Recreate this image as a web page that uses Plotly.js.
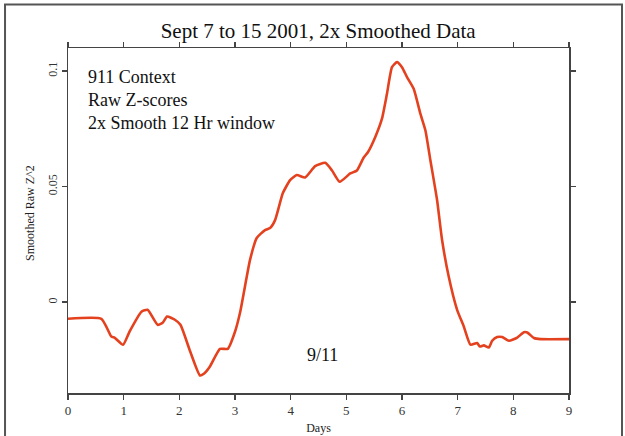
<!DOCTYPE html>
<html>
<head>
<meta charset="utf-8">
<script src="https://cdn.plot.ly/plotly-3.0.1.min.js"></script>
<style>html,body{margin:0;padding:0;background:#fff;}#chart{width:625px;height:436px;}</style>
</head>
<body>
<div id="chart"></div>
<script>
// Days since Sept 7 2001
var days = [0, 0.6, 0.78, 0.84, 0.99, 1.11, 1.32, 1.43, 1.61, 1.70, 1.78, 1.92, 2.02, 2.19, 2.37, 2.44, 2.55, 2.73, 2.87, 3.00, 3.09, 3.21, 3.27, 3.39, 3.54, 3.63, 3.72, 3.86, 3.99, 4.11, 4.26, 4.44, 4.62, 4.74, 4.88, 5.07, 5.19, 5.31, 5.39, 5.52, 5.64, 5.73, 5.82, 5.91, 6.00, 6.09, 6.21, 6.33, 6.42, 6.51, 6.63, 6.72, 6.84, 6.99, 7.11, 7.23, 7.35, 7.40, 7.47, 7.56, 7.62, 7.71, 7.80, 7.92, 8.07, 8.19, 8.25, 8.37, 8.49, 9.0];
// Smoothed raw Z^2
var smoothedZ2 = [-0.0072, -0.0072, -0.0149, -0.0154, -0.0184, -0.0125, -0.0041, -0.0033, -0.0098, -0.0089, -0.0062, -0.0076, -0.0098, -0.0210, -0.0317, -0.0310, -0.0278, -0.0202, -0.0202, -0.0128, -0.0046, 0.0109, 0.0183, 0.0278, 0.0312, 0.0321, 0.0355, 0.0472, 0.0528, 0.0550, 0.0540, 0.0589, 0.0603, 0.0571, 0.0521, 0.0557, 0.0570, 0.0625, 0.0650, 0.0715, 0.0794, 0.0902, 0.1017, 0.1039, 0.1017, 0.0974, 0.0924, 0.0816, 0.0744, 0.0614, 0.0442, 0.0269, 0.0110, -0.0033, -0.0105, -0.0184, -0.0177, -0.0192, -0.0187, -0.0196, -0.0167, -0.0151, -0.0151, -0.0167, -0.0153, -0.0130, -0.0131, -0.0155, -0.0160, -0.0160];
var xTicks = [0, 1, 2, 3, 4, 5, 6, 7, 8, 9];
var yTicks = [0, 0.05, 0.1];
var yTickText = ["0", "0.05", "0.1"];
var titleText = "Sept 7 to 15 2001, 2x Smoothed Data";
var xTitle = "Days";
var yTitle = "Smoothed Raw Z^2";
var noteLines = ["911 Context", "Raw Z-scores", "2x Smooth 12 Hr window"];
var noteY = [0.0973, 0.0873, 0.0774];
var eventLabel = "9/11";

var font = '"Liberation Serif", "Times New Roman", Times, serif';
var axisColor = '#444';

var annotations = noteLines.map(function (t, i) {
  return {text: t, x: 0.33, y: noteY[i], xref: 'x', yref: 'y', xanchor: 'left', yanchor: 'middle',
          showarrow: false, font: {family: font, size: 18, color: '#111'}};
});
annotations.push({text: eventLabel, x: 4.58, y: -0.0228, xref: 'x', yref: 'y', xanchor: 'center', yanchor: 'middle',
                  showarrow: false, font: {family: font, size: 18, color: '#111'}});
annotations.push({text: yTitle, x: -0.0758, y: 0.522, xref: 'paper', yref: 'paper', xanchor: 'center', yanchor: 'middle',
                  textangle: -90, showarrow: false, font: {family: font, size: 12, color: '#222'}});

var trace = {
  x: days, y: smoothedZ2, type: 'scatter', mode: 'lines',
  line: {color: '#e4411f', width: 2.6, shape: 'spline', smoothing: 0.5},
  hoverinfo: 'skip'
};

var layout = {
  width: 625, height: 436,
  margin: {l: 68, r: 56, t: 48, b: 43},
  paper_bgcolor: '#fff', plot_bgcolor: '#fff',
  showlegend: false,
  font: {family: font, color: '#222'},
  title: {text: titleText, x: 0.509, xanchor: 'center', y: 0.93, yanchor: 'middle', yref: 'container',
          font: {family: font, size: 21, color: '#111'}},
  xaxis: {
    range: [0, 9], tickvals: xTicks, ticks: 'outside', ticklen: 5, tickwidth: 1.5, tickcolor: axisColor,
    showline: true, linecolor: axisColor, linewidth: 1.5, mirror: 'allticks', showgrid: false, zeroline: false,
    tickfont: {family: font, size: 13, color: '#333'},
    title: {text: xTitle, font: {family: font, size: 12, color: '#222'}, standoff: 6}
  },
  yaxis: {
    range: [-0.0393, 0.110], tickvals: yTicks, ticktext: yTickText, tickangle: -90,
    ticks: 'outside', ticklen: 5, tickwidth: 1.5, tickcolor: axisColor,
    showline: true, linecolor: axisColor, linewidth: 1.5, mirror: 'allticks', showgrid: false, zeroline: false,
    tickfont: {family: font, size: 12, color: '#333'}
  },
  annotations: annotations,
  shapes: [{type: 'rect', xref: 'paper', yref: 'paper', x0: -0.1257, x1: 1.1058, y0: -0.136, y1: 1.1261,
            line: {color: '#555', width: 2}, fillcolor: 'rgba(0,0,0,0)', layer: 'below'}]
};

Plotly.newPlot('chart', [trace], layout, {staticPlot: true, displayModeBar: false});
</script>
</body>
</html>
